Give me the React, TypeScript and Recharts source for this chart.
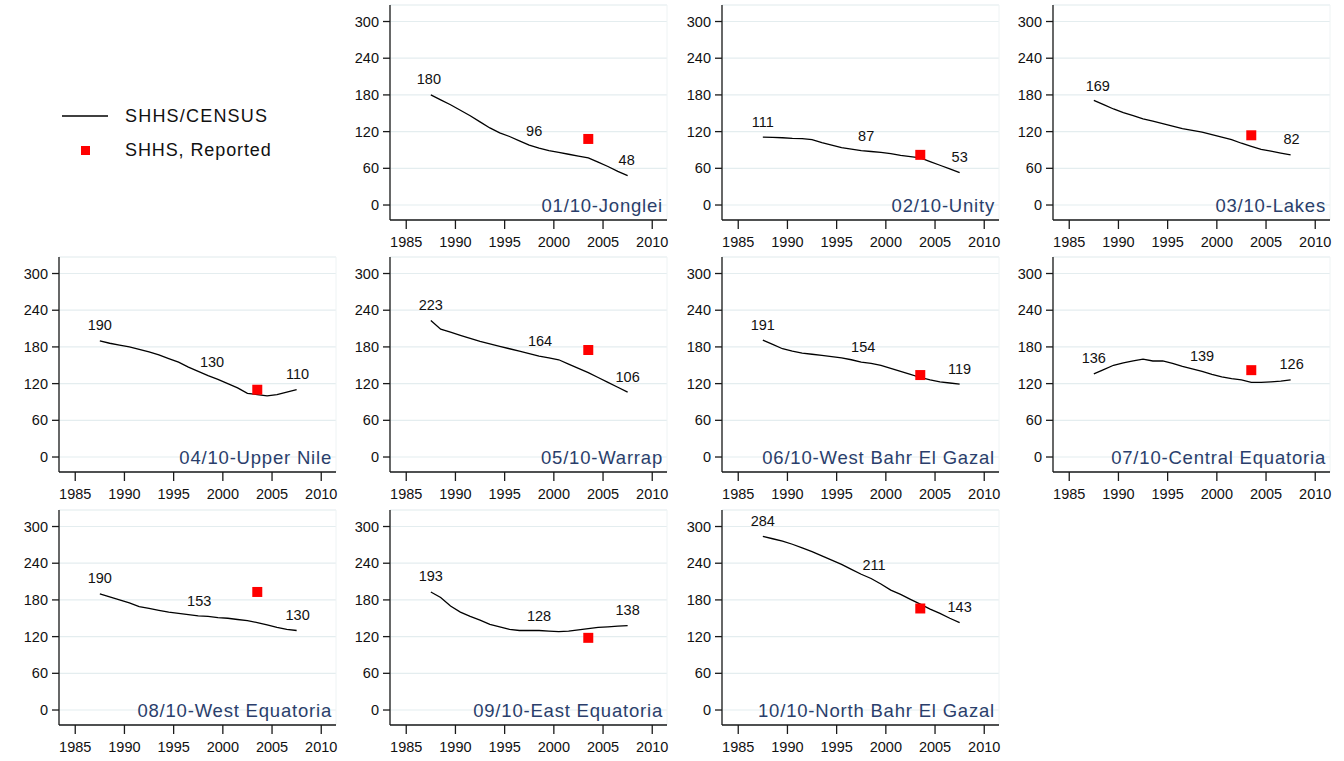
import React from 'react';
import {
  ComposedChart,
  Line,
  Scatter,
  XAxis,
  YAxis,
  ZAxis,
  CartesianGrid,
  ReferenceDot,
  ReferenceArea,
} from 'recharts';

// ---------------- DATA ----------------
const YEARS = [
  1987.5, 1988.5, 1989.5, 1990.5, 1991.5, 1992.5, 1993.5, 1994.5, 1995.5, 1996.5, 1997.5,
  1998.5, 1999.5, 2000.5, 2001.5, 2002.5, 2003.5, 2004.5, 2005.5, 2006.5, 2007.5,
];
const X_TICKS = [1985, 1990, 1995, 2000, 2005, 2010];
const Y_TICKS = [0, 60, 120, 180, 240, 300];

const TITLES = [
  '01/10-Jonglei',
  '02/10-Unity',
  '03/10-Lakes',
  '04/10-Upper Nile',
  '05/10-Warrap',
  '06/10-West Bahr El Gazal',
  '07/10-Central Equatoria',
  '08/10-West Equatoria',
  '09/10-East Equatoria',
  '10/10-North Bahr El Gazal',
];

const JONGLEI = [180, 172, 164, 155, 146, 136, 126, 118, 112, 105, 98, 93, 89, 86, 83, 80, 77, 70, 63, 55, 48];
const UNITY = [111, 110.5, 110, 109, 108.5, 107, 102, 98, 94, 91.5, 89, 87.5, 86, 84, 81, 79, 77, 71, 65, 59, 53];
const LAKES = [171, 164, 157, 151, 146, 141, 137, 133, 129, 125, 122, 119, 115, 111, 107, 101, 96, 91, 88, 85, 82];
const UPPER_NILE = [190, 186, 183, 180, 176, 172, 167, 161, 155, 147, 140, 133, 127, 120, 113, 104, 102, 100, 102, 106, 110];
const WARRAP = [223, 209, 204, 199, 194, 189, 185, 181, 177, 173, 169, 165, 162, 159, 152, 145, 138, 130, 122, 114, 106];
const WEST_BAHR = [191, 184, 177, 173, 170, 168, 166, 164, 162, 159, 155, 153, 150, 145, 140, 135, 130, 126, 123, 121, 119];
const CENTRAL_EQ = [136, 143, 150, 154, 157, 160, 157, 157, 153, 148, 144, 140, 135, 131, 128, 126, 122, 122, 123, 124, 126];
const WEST_EQ = [190, 185, 180, 175, 169, 166, 163, 160, 158, 156, 154, 153, 151, 150, 148, 146, 143, 139, 135, 132, 130];
const EAST_EQ = [193, 184, 170, 160, 153, 147, 140, 136, 132, 130, 130, 130, 129, 128, 129, 131, 133, 135, 136, 137, 138];
const NORTH_BAHR = [284, 280, 276, 271, 265, 259, 252, 245, 238, 230, 222, 215, 206, 196, 189, 181, 173, 165, 158, 150, 143];

const SERIES = [JONGLEI, UNITY, LAKES, UPPER_NILE, WARRAP, WEST_BAHR, CENTRAL_EQ, WEST_EQ, EAST_EQ, NORTH_BAHR];

const REPORTED_YEAR = 2003.5;
const REPORTED = [108, 82, 114, 110, 175, 134, 142, 193, 118, 166];

const LABEL_YEARS = [
  [1987.3, 1998.0, 2007.4],
  [1987.5, 1998.0, 2007.5],
  [1987.9, 2007.6],
  [1987.5, 1998.9, 2007.6],
  [1987.5, 1998.6, 2007.5],
  [1987.5, 1997.7, 2007.5],
  [1987.5, 1998.5, 2007.6],
  [1987.5, 1997.6, 2007.6],
  [1987.5, 1998.5, 2007.5],
  [1987.5, 1998.8, 2007.5],
];
const LABEL_VALUES = [
  [180, 96, 48],
  [111, 87, 53],
  [169, 82],
  [190, 130, 110],
  [223, 164, 106],
  [191, 154, 119],
  [136, 139, 126],
  [190, 153, 130],
  [193, 128, 138],
  [284, 211, 143],
];

const LEGEND_LINE = 'SHHS/CENSUS';
const LEGEND_POINT = 'SHHS, Reported';

// ---------------- LAYOUT ----------------
const X_DOMAIN: [number, number] = [1983.35, 2011.5];
const Y_DOMAIN: [number, number] = [-24.5, 327];
const CHART_W = 332;
const CHART_H = 252;
const COL_LEFT = [9, 340, 672, 1003];
const ROW_TOP = [0, 252, 505];
const CELLS = [
  [0, 1], [0, 2], [0, 3],
  [1, 0], [1, 1], [1, 2], [1, 3],
  [2, 0], [2, 1], [2, 2],
];

const FONT = '"Liberation Sans", Arial, Helvetica, sans-serif';
const TITLE_COLOR = '#2A3E6B';
const GRID_COLOR = '#E4EDEF';
const AXIS_COLOR = '#1a1a1a';

function Panel({ idx }: { idx: number }) {
  const [r, c] = CELLS[idx];
  const values = SERIES[idx];
  const data = YEARS.map((year, i) => ({ year, v: values[i] }));
  const reported = [{ year: REPORTED_YEAR, rep: REPORTED[idx] }];
  const labels = LABEL_YEARS[idx].map((yr, i) => ({ yr, val: LABEL_VALUES[idx][i] }));
  const tickStyle = { fontSize: 14.5, fill: '#111', fontFamily: FONT };
  return (
    <div style={{ position: 'absolute', left: COL_LEFT[c], top: ROW_TOP[r], width: CHART_W, height: CHART_H }}>
      <ComposedChart
        width={CHART_W}
        height={CHART_H}
        data={data}
        margin={{ top: 5, right: 5, bottom: 0, left: 0 }}
      >
        <CartesianGrid vertical={false} stroke={GRID_COLOR} strokeWidth={1.2} />
        <ReferenceArea
          x1={X_DOMAIN[0]}
          x2={X_DOMAIN[1]}
          y1={Y_DOMAIN[0]}
          y2={Y_DOMAIN[1]}
          fill="none"
          fillOpacity={0}
          stroke="#EEF3F4"
          label={{
            value: TITLES[idx],
            position: 'insideBottomRight',
            offset: 8,
            dx: 4,
            fill: TITLE_COLOR,
            fontSize: 18.5,
            fontFamily: FONT,
            letterSpacing: 0.8,
          }}
        />
        <XAxis
          dataKey="year"
          type="number"
          domain={X_DOMAIN}
          ticks={X_TICKS}
          allowDataOverflow
          interval={0}
          height={32}
          tickSize={9}
          tickMargin={8}
          tick={tickStyle}
          stroke={AXIS_COLOR}
          strokeWidth={1.3}
        />
        <YAxis
          type="number"
          domain={Y_DOMAIN}
          ticks={Y_TICKS}
          allowDataOverflow
          interval={0}
          width={50}
          tickSize={7}
          tickMargin={4}
          tick={tickStyle}
          stroke={AXIS_COLOR}
          strokeWidth={1.3}
        />
        <ZAxis type="number" range={[100, 100]} />
        <Line
          type="linear"
          dataKey="v"
          stroke="#000"
          strokeWidth={1.3}
          dot={false}
          activeDot={false}
          isAnimationActive={false}
        />
        <Scatter
          data={reported}
          dataKey="rep"
          fill="#FF0000"
          shape="square"
          isAnimationActive={false}
        />
        {labels.map((l, i) => (
          <ReferenceDot
            key={i}
            x={l.yr}
            y={l.val}
            r={0}
            fill="none"
            stroke="none"
            label={{
              value: String(l.val),
              position: 'top',
              offset: 10.5,
              fontSize: 14.5,
              fill: '#111',
              fontFamily: FONT,
            }}
          />
        ))}
      </ComposedChart>
    </div>
  );
}

function LegendBox() {
  return (
    <svg
      width={330}
      height={250}
      style={{ position: 'absolute', left: 0, top: 0, fontFamily: FONT }}
    >
      <line x1={62} y1={116} x2={108} y2={116} stroke="#000" strokeWidth={1.5} />
      <text x={125} y={116} dominantBaseline="central" fontSize={18} letterSpacing={1.2} fill="#111">
        {LEGEND_LINE}
      </text>
      <rect x={81} y={146} width={9} height={9} fill="#FF0000" />
      <text x={125} y={150} dominantBaseline="central" fontSize={18} letterSpacing={0.9} fill="#111">
        {LEGEND_POINT}
      </text>
    </svg>
  );
}

export default function App() {
  return (
    <div
      style={{
        position: 'absolute',
        left: 0,
        top: 0,
        width: 1344,
        height: 761,
        background: '#fff',
        fontFamily: FONT,
        overflow: 'hidden',
      }}
    >
      <LegendBox />
      {TITLES.map((_, i) => (
        <Panel key={i} idx={i} />
      ))}
    </div>
  );
}
